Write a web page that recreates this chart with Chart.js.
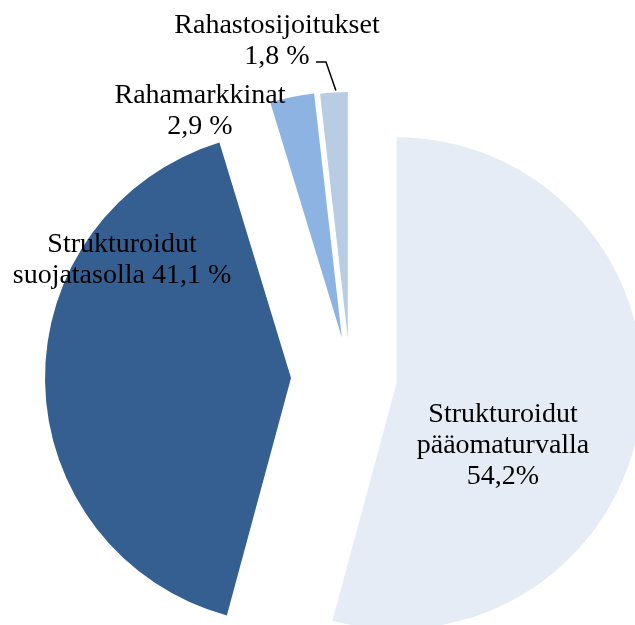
<!DOCTYPE html>
<html>
<head>
<meta charset="utf-8">
<script src="https://cdn.jsdelivr.net/npm/chart.js@4"></script>
<style>
  html, body { margin: 0; padding: 0; background: #fff; }
  canvas { display: block; }
</style>
</head>
<body>
<canvas id="pie" width="635" height="625"></canvas>
<script>
// data
const categories = ['Strukturoidut pääomaturvalla', 'Strukturoidut suojatasolla', 'Rahamarkkinat', 'Rahastosijoitukset']
const shares = [54.2, 41.1, 2.9, 1.8]
const labelLines = [
    ['Strukturoidut', 'pääomaturvalla', '54,2%'],
    ['Strukturoidut', 'suojatasolla 41,1 %'],
    ['Rahamarkkinat', '2,9 %'],
    ['Rahastosijoitukset', '1,8 %']
]

// look
const colors = ['#E5ECF6', '#355F91', '#8DB3E2', '#B8CCE4']
const explode = [47, 59, 40, 39]   // px each slice is pulled out
const labelPos = [[503, 422], [122, 252], [200, 103], [277, 33]]
const lineGap = 31
const font = '28px "Liberation Serif", serif'

// pull slices out along their mid angle (offset option also grows the radius)
const explodePlugin = {
    id: 'explode',
    afterDatasetsUpdate(chart) {
        const arcs = chart.getDatasetMeta(0).data
        arcs.forEach((arc, i) => {
            const mid = (arc.startAngle + arc.endAngle) / 2
            arc.x += Math.cos(mid) * explode[i]
            arc.y += Math.sin(mid) * explode[i]
        })
    }
}

const labelPlugin = {
    id: 'sliceLabels',
    afterDraw(chart) {
        const ctx = chart.ctx
        ctx.save()
        ctx.font = font
        ctx.fillStyle = '#000'
        ctx.textAlign = 'center'
        ctx.textBaseline = 'alphabetic'
        labelLines.forEach((lines, i) => {
            lines.forEach((t, j) => {
                ctx.fillText(t, labelPos[i][0], labelPos[i][1] + j * lineGap)
            })
        })
        // leader line for the smallest slice
        const arc = chart.getDatasetMeta(0).data[3]
        const mid = (arc.startAngle + arc.endAngle) / 2
        const ex = arc.x + Math.cos(mid) * arc.outerRadius
        const ey = arc.y + Math.sin(mid) * arc.outerRadius
        ctx.strokeStyle = '#000'
        ctx.lineWidth = 1.5
        ctx.beginPath()
        ctx.moveTo(316, 62)
        ctx.lineTo(326, 62)
        ctx.lineTo(ex + 2, ey - 2)
        ctx.stroke()
        ctx.restore()
    }
}

const pie = new Chart(document.querySelector('#pie').getContext('2d'), {
    type: 'pie',
    data: {
        labels: categories,
        datasets: [{
            data: shares,
            backgroundColor: colors,
            borderWidth: 0,
            radius: 246,
            clip: false
        }]
    },
    options: {
        responsive: false,
        animation: false,
        layout: {
            padding: { left: 65, right: 0, top: 129, bottom: 0 }
        },
        plugins: {
            legend: { display: false },
            tooltip: { enabled: false }
        }
    },
    plugins: [explodePlugin, labelPlugin]
})
</script>
</body>
</html>
